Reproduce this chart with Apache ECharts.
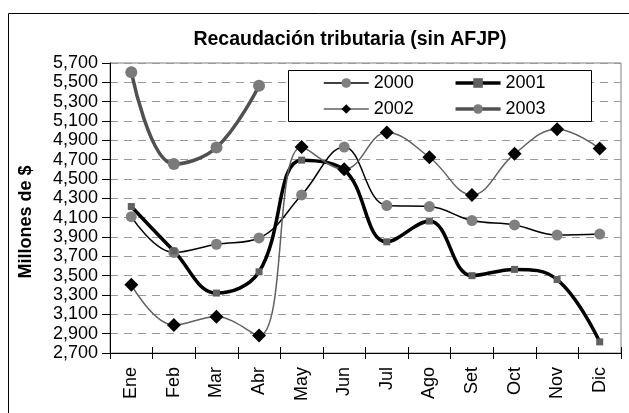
<!DOCTYPE html>
<html>
<head>
<meta charset="utf-8">
<script src="https://cdn.jsdelivr.net/npm/echarts@6/dist/echarts.min.js"></script>
<style>
	html, body { margin: 0; padding: 0; background: #fff; }
	#chart { width: 629px; height: 413px; }
</style>
</head>
<body>
<div id="chart"></div>
<script>
	var months = ['Ene', 'Feb', 'Mar', 'Abr', 'May', 'Jun', 'Jul', 'Ago', 'Set', 'Oct', 'Nov', 'Dic'];
	var y2000 = [4110, 3740, 3825, 3890, 4335, 4830, 4225, 4215, 4070, 4025, 3920, 3930];
	var y2001 = [4215, 3755, 3320, 3540, 4695, 4595, 3850, 4065, 3500, 3565, 3460, 2815];
	var y2002 = [3405, 2990, 3075, 2880, 4830, 4600, 4980, 4725, 4335, 4760, 5015, 4815];
	var y2003 = [5605, 4655, 4825, 5465, null, null, null, null, null, null, null, null];

	var font = 'Liberation Sans, Arial, sans-serif';

	var chart = echarts.init(document.getElementById('chart'));

	var legendText = { fontSize: 18, width: 60, color: '#000', fontFamily: font };

	var option = {
		animation: false,
		backgroundColor: '#fff',
		textStyle: { fontFamily: font, color: '#000' },
		title: {
			text: 'Recaudación tributaria (sin AFJP)',
			left: 345,
			textAlign: 'center',
			top: 25,
			textStyle: { fontSize: 19.5, fontWeight: 'bold', color: '#000', fontFamily: font }
		},
		grid: {
			left: 110,
			right: 8,
			top: 63,
			bottom: 60,
			show: true,
			borderColor: '#808080',
			borderWidth: 1
		},
		legend: [
			{
				data: [
					{ name: '2000', lineStyle: { width: 1.5 } },
					{ name: '2001', lineStyle: { width: 3.5 } }
				],
				left: 323,
				top: 74,
				padding: 0,
				itemWidth: 45,
				itemHeight: 12,
				itemGap: 40,
				textStyle: legendText
			},
			{
				data: [
					{ name: '2002', lineStyle: { width: 1.5 } },
					{ name: '2003', lineStyle: { width: 3.5 } }
				],
				left: 323,
				top: 100,
				padding: 0,
				itemWidth: 45,
				itemHeight: 12,
				itemGap: 40,
				textStyle: legendText
			}
		],
		graphic: [
			{
				type: 'rect',
				z: 0,
				shape: { x: 8.5, y: 13.5, width: 700, height: 500 },
				style: { fill: 'none', stroke: '#000', lineWidth: 1 }
			},
			{
				type: 'rect',
				z: 3,
				shape: { x: 288.5, y: 70.5, width: 303, height: 51 },
				style: { fill: '#fff', stroke: '#000', lineWidth: 1 }
			},
			{
				type: 'text',
				x: 26,
				y: 222,
				rotation: Math.PI / 2,
				style: {
					text: 'Millones de $',
					fontSize: 18,
					fontWeight: 'bold',
					fontFamily: font,
					fill: '#000',
					align: 'center',
					verticalAlign: 'middle'
				}
			}
		],
		xAxis: [
			{
				type: 'category',
				data: months,
				boundaryGap: true,
				position: 'bottom',
				axisLine: { lineStyle: { color: '#000', width: 1 } },
				axisTick: { show: true, length: 6, lineStyle: { color: '#000' } },
				axisLabel: { rotate: 90, fontSize: 18, color: '#000', margin: 14, fontFamily: font }
			},
			{
				// inner half of the crossing ticks
				type: 'category',
				data: months,
				boundaryGap: true,
				position: 'bottom',
				axisLine: { show: false },
				axisTick: { show: true, inside: true, length: 6, lineStyle: { color: '#000' } },
				axisLabel: { show: false },
				splitLine: { show: false }
			}
		],
		yAxis: {
			type: 'value',
			min: 2700,
			max: 5700,
			interval: 200,
			axisLine: { show: true, lineStyle: { color: '#000', width: 1 } },
			axisTick: { show: true, length: 8, lineStyle: { color: '#000' } },
			axisLabel: {
				fontSize: 18,
				color: '#000',
				margin: 12,
				fontFamily: font,
				formatter: function (v) { return v.toString().replace(/\B(?=(\d{3})+(?!\d))/g, ','); }
			},
			splitLine: { show: true, lineStyle: { color: '#999', type: [8, 6], width: 1 } }
		},
		series: [
			{
				name: '2000',
				type: 'line',
				data: y2000,
				smooth: 0.4,
				symbol: 'circle',
				symbolSize: 11,
				lineStyle: { color: '#000', width: 1.5 },
				itemStyle: { color: '#808080', borderWidth: 0 }
			},
			{
				name: '2001',
				type: 'line',
				data: y2001,
				smooth: 0.4,
				symbol: 'rect',
				symbolSize: 7,
				lineStyle: { color: '#000', width: 3.5 },
				itemStyle: { color: '#606060', borderWidth: 0 }
			},
			{
				name: '2002',
				type: 'line',
				data: y2002,
				smooth: 0.4,
				symbol: 'diamond',
				symbolSize: 14,
				lineStyle: { color: '#606060', width: 1.5 },
				itemStyle: { color: '#000', borderWidth: 0 }
			},
			{
				name: '2003',
				type: 'line',
				data: y2003,
				smooth: 0.4,
				symbol: 'circle',
				symbolSize: 12,
				lineStyle: { color: '#505050', width: 3.5 },
				itemStyle: { color: '#7a7a7a', borderWidth: 0 }
			}
		]
	};

	chart.setOption(option);
</script>
</body>
</html>
